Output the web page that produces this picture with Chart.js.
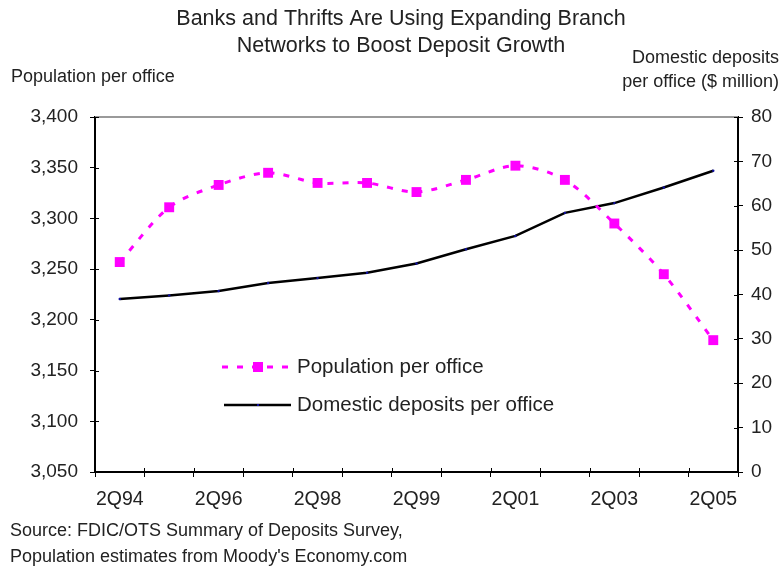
<!DOCTYPE html>
<html>
<head>
<meta charset="utf-8">
<script src="https://cdn.jsdelivr.net/npm/chart.js@4"></script>
<style>
  html, body { margin: 0; padding: 0; background: #fff; }
  #wrap { width: 781px; height: 578px; position: relative; }
</style>
</head>
<body>
<div id="wrap"><canvas id="chart" width="781" height="578"></canvas></div>
<script>
// Chart data
const quarters = ['2Q94', '2Q95', '2Q96', '2Q97', '2Q98', '4Q98', '2Q99', '2Q00', '2Q01', '2Q02', '2Q03', '2Q04', '2Q05'];
const shownLabels = ['2Q94', '2Q96', '2Q98', '2Q99', '2Q01', '2Q03', '2Q05'];
const populationPerOffice = [3257, 3311, 3333, 3345, 3335, 3335, 3326, 3338, 3352, 3338, 3295, 3245, 3180];
const depositsPerOffice = [39.0, 39.8, 40.8, 42.6, 43.7, 44.9, 47.0, 50.2, 53.2, 58.4, 60.6, 64.1, 67.9];

const FONT = '"Liberation Sans", Arial, sans-serif';
const TEXT = '#222';

// titles, axis captions, legend and source notes
const annotations = {
    id: 'annotations',
    afterDraw(chart) {
        const ctx = chart.ctx;
        const area = chart.chartArea;
        ctx.save();
        ctx.fillStyle = TEXT;
        ctx.textBaseline = 'middle';

        ctx.font = '21.5px ' + FONT;
        ctx.textAlign = 'center';
        ctx.fillText('Banks and Thrifts Are Using Expanding Branch', 401, 19);
        ctx.fillText('Networks to Boost Deposit Growth', 401, 46);

        ctx.font = '18px ' + FONT;
        ctx.textAlign = 'left';
        ctx.fillText('Population per office', 11, 77);
        ctx.textAlign = 'right';
        ctx.fillText('Domestic deposits', 779, 58);
        ctx.fillText('per office ($ million)', 779, 82);

        ctx.textAlign = 'left';
        ctx.fillText('Source: FDIC/OTS Summary of Deposits Survey,', 10, 531);
        ctx.fillText("Population estimates from Moody's Economy.com", 10, 557);

        // gray top frame
        ctx.strokeStyle = '#9a9a9a';
        ctx.lineWidth = 2;
        ctx.beginPath();
        ctx.moveTo(area.left, area.top);
        ctx.lineTo(area.right, area.top);
        ctx.stroke();

        // inner halves of tick marks so they cross the axes
        ctx.strokeStyle = '#000';
        ctx.lineWidth = 1;
        const yl = chart.scales.y, yr = chart.scales.y2, x = chart.scales.x;
        ctx.beginPath();
        yl.ticks.forEach((t, i) => {
            const p = Math.round(yl.getPixelForTick(i)) + 0.5;
            ctx.moveTo(area.left, p); ctx.lineTo(area.left + 4, p);
        });
        yr.ticks.forEach((t, i) => {
            const p = Math.round(yr.getPixelForTick(i)) + 0.5;
            ctx.moveTo(area.right, p); ctx.lineTo(area.right - 4, p);
        });
        for (let i = 0; i <= quarters.length; i++) {
            const p = Math.round(x.getPixelForValue(i - 0.5)) + 0.5;
            ctx.moveTo(p, area.bottom); ctx.lineTo(p, area.bottom - 4);
        }
        ctx.stroke();

        // legend inside the plot
        const lx = 222, ly1 = 367, ly2 = 405;
        ctx.strokeStyle = '#ff00ff';
        ctx.lineWidth = 3;
        ctx.setLineDash([6, 9]);
        ctx.beginPath();
        ctx.moveTo(lx, ly1); ctx.lineTo(lx + 68, ly1);
        ctx.stroke();
        ctx.setLineDash([]);
        ctx.fillStyle = '#ff00ff';
        ctx.fillRect(lx + 31, ly1 - 5, 10, 10);

        ctx.strokeStyle = '#000';
        ctx.lineWidth = 2.5;
        ctx.beginPath();
        ctx.moveTo(lx + 2, ly2); ctx.lineTo(lx + 69, ly2);
        ctx.stroke();
        ctx.fillStyle = '#1010a0';
        ctx.fillRect(lx + 35, ly2 - 1, 2, 2);

        ctx.fillStyle = TEXT;
        ctx.font = '20.5px ' + FONT;
        ctx.textAlign = 'left';
        ctx.fillText('Population per office', lx + 75, ly1);
        ctx.fillText('Domestic deposits per office', lx + 75, ly2);
        ctx.restore();
    }
};

new Chart(document.getElementById('chart'), {
    type: 'line',
    data: {
        labels: quarters,
        datasets: [{
            label: 'Population per office',
            data: populationPerOffice,
            yAxisID: 'y',
            borderColor: '#ff00ff',
            backgroundColor: '#ff00ff',
            borderWidth: 3,
            borderDash: [6, 9],
            pointStyle: 'rect',
            pointRadius: 7,
            pointBorderWidth: 0,
            tension: 0.3,
            fill: false
        }, {
            label: 'Domestic deposits per office',
            data: depositsPerOffice,
            yAxisID: 'y2',
            borderColor: '#000',
            backgroundColor: '#1010a0',
            borderWidth: 2.5,
            pointRadius: 1.2,
            pointBorderWidth: 0,
            tension: 0,
            fill: false
        }]
    },
    options: {
        responsive: false,
        animation: false,
        layout: { padding: { top: 117, left: 0, right: 0, bottom: 0 } },
        plugins: {
            legend: { display: false },
            title: { display: false },
            tooltip: { enabled: false }
        },
        scales: {
            x: {
                offset: true,
                afterFit: s => { s.height = 106; },
                border: { display: true, color: '#000', width: 2 },
                grid: { drawOnChartArea: false, drawTicks: true, tickLength: 5, color: '#000', offset: true },
                ticks: {
                    autoSkip: false,
                    maxRotation: 0,
                    padding: 11,
                    color: TEXT,
                    font: { family: FONT, size: 19.5 },
                    callback: (v, i) => shownLabels.includes(quarters[i]) ? quarters[i] : ''
                }
            },
            y: {
                position: 'left',
                min: 3050,
                max: 3400,
                afterFit: s => { s.width = 95; },
                border: { display: true, color: '#000', width: 2 },
                grid: { drawOnChartArea: false, drawTicks: true, tickLength: 5, color: '#000' },
                ticks: {
                    stepSize: 50,
                    padding: 12,
                    color: TEXT,
                    font: { family: FONT, size: 19 },
                    callback: v => v.toLocaleString('en-US')
                }
            },
            y2: {
                position: 'right',
                min: 0,
                max: 80,
                afterFit: s => { s.width = 43; },
                border: { display: true, color: '#000', width: 2 },
                grid: { drawOnChartArea: false, drawTicks: true, tickLength: 5, color: '#000' },
                ticks: {
                    stepSize: 10,
                    padding: 8,
                    color: TEXT,
                    font: { family: FONT, size: 19 }
                }
            }
        }
    },
    plugins: [annotations]
});
</script>
</body>
</html>
